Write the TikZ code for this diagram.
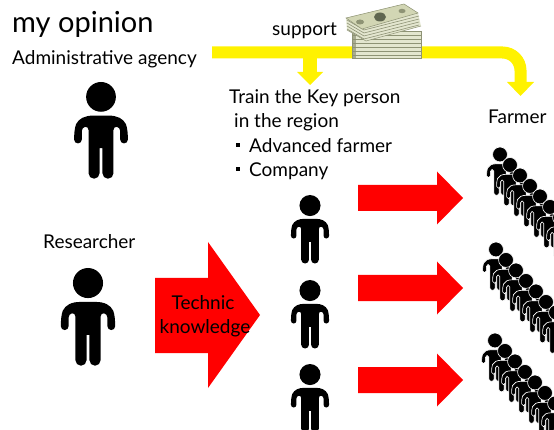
\documentclass[tikz,border=0pt]{standalone}
\usepackage{fontspec}
\setmainfont{Lato}
\definecolor{billpale}{HTML}{E3E6CF}
\definecolor{billface}{HTML}{D2D6B4}
\definecolor{billedge}{HTML}{8E9375}
\definecolor{billdark}{HTML}{5F6650}

% A standing person icon: x, top y, scale, style of the outline
\newcommand\manicon[4]{%
  \begin{scope}[shift={(#1,#2)},scale=#3]
    \filldraw[fill=black,#4] (0,35) -- (8,35) .. controls (17,35) and (23,38) .. (26,44)
      .. controls (27.5,48) and (28,54) .. (28,60)
      arc[start angle=0,end angle=180,radius=4]
      -- (20,51) .. controls (20,46) and (13,45) .. (13,50)
      -- (13,95) arc[start angle=0,end angle=180,radius=5.75]
      -- (1.5,69) -- (-1.5,69) -- (-1.5,95)
      arc[start angle=0,end angle=180,radius=5.75]
      -- (-13,50) .. controls (-13,45) and (-20,46) .. (-20,51)
      -- (-20,60) arc[start angle=0,end angle=180,radius=4]
      .. controls (-28,54) and (-27.5,48) .. (-26,44)
      .. controls (-23,38) and (-17,35) .. (-8,35) -- cycle;
    \filldraw[fill=black,#4] (0,15.5) circle[radius=15.5];
  \end{scope}}

\tikzset{
  label/.style={inner sep=0pt,font=\fontsize{19}{22}\selectfont},
  yband/.style={draw=yellow,line width=12pt},
  solo/.style={draw=none},
  crowd/.style={draw=white,line width=0.6pt},
}

\begin{document}
\begin{tikzpicture}[x=1pt,y=-1pt]
\useasboundingbox (0,0) rectangle (554,430);
\clip (0,0) rectangle (554,430);

% headings and labels
\node[label,anchor=base west,font=\fontsize{29}{32}\selectfont] (title) at (12,33) {my opinion};
\node[label,anchor=base west] (admin) at (12,65) {Administrative agency};
\node[label,anchor=base west] (support) at (272,36) {support};
\node[label,anchor=base west] (train) at (229,104) {Train the Key person};
\node[label,anchor=base west] (region) at (234,128) {in the region};
\node[label,anchor=base west] (adv) at (249,153) {Advanced farmer};
\node[label,anchor=base west] (comp) at (249,177) {Company};
\fill (236,143) rectangle (240,147);
\fill (236,167) rectangle (240,171);
\node[label,anchor=base west] (farmer) at (488,124) {Farmer};
\node[label,anchor=base west] (research) at (43,249) {Researcher};

% yellow support flow
\coordinate (ystart) at (212,52.5);
\coordinate (ybend) at (520.5,52.5);
\coordinate (yend) at (520.5,84);
\draw[yband,rounded corners=18pt] (ystart) -- (ybend) -- (yend);
\fill[yellow] (507,82) -- (534,82) -- (520.5,96) -- cycle;
\coordinate (ybranch) at (310,58);
\coordinate (ybranchend) at (310,73);
\draw[draw=yellow,line width=14pt] (ybranch) -- (ybranchend);
\fill[yellow] (297,72) -- (323,72) -- (310,85) -- cycle;

% stack of banknotes
\fill[billpale] (352,31) rectangle (421,58);
\fill[billface!80!black] (352,31) rectangle (356,58);
\foreach \yy in {35,39,43,47,51,55}
  \draw[billedge,line width=0.6pt] (352,\yy) -- (421,\yy);
\draw[billedge,line width=0.5pt] (352,31) rectangle (421,58);
\fill[billpale] (346,18) -- (404,4) -- (418,13) -- (421,26) -- (366,41) -- (347,30) -- cycle;
\foreach \k in {0,3,6,9}
  \draw[billedge,line width=0.6pt] (347,20+\k) -- (364,30+\k) -- (419,16+\k);
\fill[billface] (346,18) -- (404,4) -- (418,13) -- (362,29) -- cycle;
\draw[billedge,line width=0.5pt] (346,18) -- (404,4) -- (418,13) -- (362,29) -- cycle;
\fill[billdark] (380,17) ellipse[x radius=6,y radius=4.5];
\fill[billedge] (360,22) ellipse[x radius=4,y radius=2.5];
\fill[billedge] (402,11) ellipse[x radius=3.5,y radius=2.2];
\draw[billedge,line width=0.5pt] (347,30) -- (366,41) -- (421,26);

% single people
\manicon{101}{82}{0.96}{solo}
\manicon{88}{268}{0.97}{solo}
\foreach \t in {195,280,364}
  \manicon{310}{\t}{0.68}{solo};

% rows of farmers
\foreach \hx/\hy in {500/147, 496/242, 495/333}
  \foreach \i in {0,...,6}
    \manicon{\hx+10*\i}{\hy+10.5*\i}{0.48}{crowd};

% technique transfer arrow
\fill[red] (155,278) -- (208,278) -- (208,242) -- (260,315) -- (208,388)
  -- (208,353) -- (155,353) -- cycle;
\node[label,anchor=base] (tech) at (203,309) {Technic};
\node[label,anchor=base] (know) at (205,334) {knowledge};

% arrows towards the farmers
\foreach \c in {198,288,380}
  \fill[red] (358,\c-13) -- (437,\c-13) -- (437,\c-26.5) -- (463,\c)
    -- (437,\c+26.5) -- (437,\c+13) -- (358,\c+13) -- cycle;
\end{tikzpicture}
\end{document}
